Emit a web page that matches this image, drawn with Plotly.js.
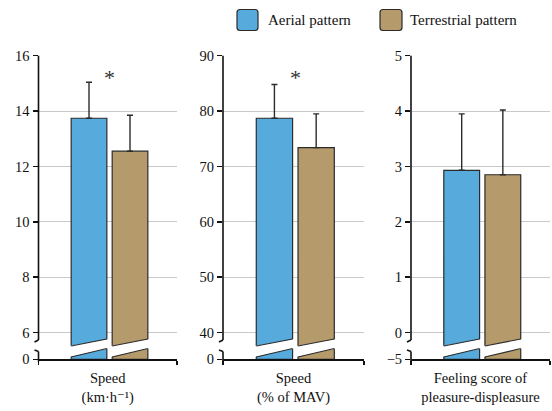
<!DOCTYPE html>
<html>
<head>
<meta charset="utf-8">
<script src="https://cdn.plot.ly/plotly-3.0.1.min.js"></script>
<style>html,body{margin:0;padding:0;background:#fff;}#chart{width:552px;height:411px;}</style>
</head>
<body>
<div id="chart"></div>
<script>
// ---- data ----
const categories = ['Speed<br>(km·h⁻¹)', 'Speed<br>(% of MAV)', 'Feeling score of<br>pleasure-displeasure'];
const seriesNames = ['Aerial pattern', 'Terrestrial pattern'];
const aerialMean = [13.74, 78.7, 2.93];
const aerialSD = [1.30, 6.1, 1.02];
const terrestrialMean = [12.55, 73.4, 2.85];
const terrestrialSD = [1.30, 6.1, 1.17];
const upperTicks = [[6, 8, 10, 12, 14, 16], [40, 50, 60, 70, 80, 90], [0, 1, 2, 3, 4, 5]];
const lowerTicks = [0, 0, -5];
const significant = [true, true, false];

// ---- styling / layout ----
const W = 552, H = 411;
const fx = p => p / W;
const fy = p => 1 - p / H;
const colors = ['#57AADC', '#B59A6B'];
const edge = '#2b2b2b';
const FONT = '"Liberation Serif", "DejaVu Serif", serif';
const xDom = [[38.5, 177], [223, 364], [411, 550]];
const upperTopPx = 55.67, breakPx = 347, basePx = 359.3;
const upperRanges = [[5.48, 16], [37.4, 90], [-0.26, 5]];
const xRange = [-1.232, 2.146];
const barW = 0.87;

const means = [aerialMean, terrestrialMean];
const sds = [aerialSD, terrestrialSD];

const traces = [];
const layout = {
  width: W, height: H,
  margin: {l: 0, r: 0, t: 0, b: 0},
  paper_bgcolor: '#fff', plot_bgcolor: 'rgba(0,0,0,0)',
  showlegend: false,
  barmode: 'overlay',
  font: {family: FONT, size: 13, color: '#111'},
  shapes: [], annotations: []
};

categories.forEach((cat, i) => {
  const up = 2 * i + 1, lo = 2 * i + 2;
  const base = lowerTicks[i];
  for (let s = 0; s < 2; s++) {
    const common = {
      type: 'bar', x: [s], y: [means[s][i] - base], base: [base], width: barW,
      name: seriesNames[s], showlegend: false,
      marker: {color: colors[s], line: {color: edge, width: 1.2}},
      hoverinfo: 'skip'
    };
    traces.push(Object.assign({}, common, {
      xaxis: 'x' + up, yaxis: 'y' + up,
      error_y: {type: 'data', symmetric: false, array: [sds[s][i]], arrayminus: [0],
                color: edge, thickness: 1.4, width: 3}
    }));
    traces.push(Object.assign({}, common, {xaxis: 'x' + lo, yaxis: 'y' + lo}));

    // broken-bar gap (white) with slanted dark edges
    const xl = s - barW / 2, xr = s + barW / 2, e = 0.04;
    const tl = 346, tr = 339, bl = 357, br = 348.5;
    layout.shapes.push({type: 'path', xref: 'x' + up, yref: 'paper', layer: 'above',
      path: `M ${xl - e},${fy(tl)} L ${xr + e},${fy(tr)} L ${xr + e},${fy(br)} L ${xl - e},${fy(bl)} Z`,
      fillcolor: '#fff', line: {width: 0}});
    layout.shapes.push({type: 'line', xref: 'x' + up, yref: 'paper', layer: 'above',
      x0: xl, x1: xr, y0: fy(tl), y1: fy(tr), line: {color: edge, width: 1.2}});
    layout.shapes.push({type: 'line', xref: 'x' + up, yref: 'paper', layer: 'above',
      x0: xl, x1: xr, y0: fy(bl), y1: fy(br), line: {color: edge, width: 1.2}});
  }

  const dom = [fx(xDom[i][0]), fx(xDom[i][1])];
  layout['xaxis' + up] = {domain: dom, range: xRange, anchor: 'y' + up,
    showline: false, showticklabels: false, ticks: '', showgrid: false, zeroline: false, fixedrange: true};
  layout['xaxis' + lo] = {domain: dom, range: xRange, anchor: 'y' + lo,
    showline: true, linecolor: '#111', linewidth: 1.6,
    tickmode: 'array', tickvals: [xRange[0], xRange[1]], ticktext: ['', ''],
    ticks: 'outside', ticklen: 4, tickwidth: 1.5, tickcolor: '#111',
    showgrid: false, zeroline: false, fixedrange: true,
    title: {text: cat, font: {family: FONT, size: 14.5, color: '#111'}, standoff: 6}};
  layout['yaxis' + up] = {domain: [fy(breakPx), fy(upperTopPx)], range: upperRanges[i], anchor: 'x' + up,
    tickmode: 'array', tickvals: upperTicks[i], ticks: 'outside', ticklen: 5, tickwidth: 1.5, tickcolor: '#111',
    showgrid: true, gridcolor: '#c9c9c9', gridwidth: 1, zeroline: false, showline: false,
    tickfont: {family: FONT, size: 14.5, color: '#111'}, fixedrange: true};
  layout['yaxis' + lo] = {domain: [fy(basePx), fy(breakPx)], range: [base, base + 1], anchor: 'x' + lo,
    tickmode: 'array', tickvals: [base], ticks: 'outside', ticklen: 5, tickwidth: 1.5, tickcolor: '#111',
    showgrid: false, zeroline: false, showline: false,
    tickfont: {family: FONT, size: 14.5, color: '#111'}, fixedrange: true};

  // y-axis line with break marks
  const ax = fx(xDom[i][0]);
  const lineStyle = {color: '#111', width: 1.6};
  layout.shapes.push({type: 'line', xref: 'paper', yref: 'paper', x0: ax, x1: ax, y0: fy(upperTopPx), y1: fy(340), line: lineStyle});
  layout.shapes.push({type: 'line', xref: 'paper', yref: 'paper', x0: ax, x1: ax - fx(4), y0: fy(340), y1: fy(342), line: lineStyle});
  layout.shapes.push({type: 'line', xref: 'paper', yref: 'paper', x0: ax - fx(4), x1: ax, y0: fy(350), y1: fy(351.5), line: lineStyle});
  layout.shapes.push({type: 'line', xref: 'paper', yref: 'paper', x0: ax, x1: ax, y0: fy(351.5), y1: fy(361.5), line: lineStyle});

  if (significant[i]) {
    layout.annotations.push({xref: 'x' + up, yref: 'paper', x: 0.5, y: fy(77), text: '*',
      showarrow: false, xanchor: 'center', yanchor: 'middle', font: {family: FONT, size: 22, color: '#333'}});
  }
});

// manual legend
const legendItems = [{x0: 237, x1: 258, tx: 266}, {x0: 380, x1: 402, tx: 408}];
legendItems.forEach((it, s) => {
  const y0 = 9.5, y1 = 30.5, r = 3;
  const X = v => fx(v), Y = v => fy(v);
  const p = `M ${X(it.x0 + r)},${Y(y0)} L ${X(it.x1 - r)},${Y(y0)} Q ${X(it.x1)},${Y(y0)} ${X(it.x1)},${Y(y0 + r)} ` +
            `L ${X(it.x1)},${Y(y1 - r)} Q ${X(it.x1)},${Y(y1)} ${X(it.x1 - r)},${Y(y1)} ` +
            `L ${X(it.x0 + r)},${Y(y1)} Q ${X(it.x0)},${Y(y1)} ${X(it.x0)},${Y(y1 - r)} ` +
            `L ${X(it.x0)},${Y(y0 + r)} Q ${X(it.x0)},${Y(y0)} ${X(it.x0 + r)},${Y(y0)} Z`;
  layout.shapes.push({type: 'path', xref: 'paper', yref: 'paper', path: p,
    fillcolor: colors[s], line: {color: edge, width: 1.2}});
  layout.annotations.push({xref: 'paper', yref: 'paper', x: fx(it.tx), y: fy(20), text: seriesNames[s],
    showarrow: false, xanchor: 'left', yanchor: 'middle', font: {family: FONT, size: 15, color: '#111'}});
});

Plotly.newPlot('chart', traces, layout, {displayModeBar: false, staticPlot: true});
</script>
</body>
</html>
